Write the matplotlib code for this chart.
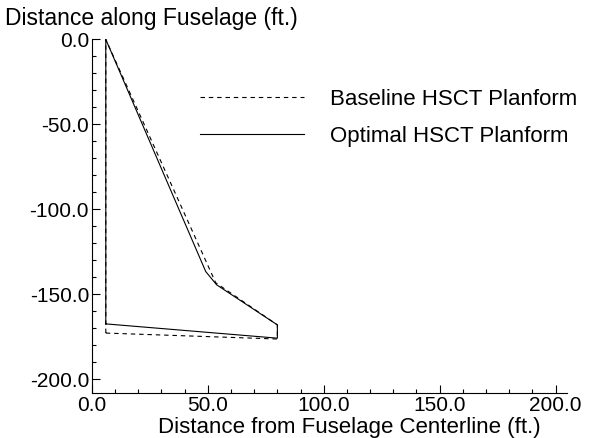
import numpy as np
import matplotlib.pyplot as plt

plt.rcParams['font.family'] = ['Liberation Sans', 'DejaVu Sans']

# planform outlines (ft.), root -> leading edge -> tip -> trailing edge -> root
base_x = [6.0, 6.0, 53.4, 80.0, 80.0, 6.0]
base_y = [-172.8, 0.0, -143.2, -168.0, -176.3, -172.8]

opt_x = [6.0, 6.0, 49.1, 53.8, 80.0, 80.0, 6.0]
opt_y = [-167.4, 0.0, -136.6, -144.4, -168.0, -175.8, -167.4]

xticks = [0, 50, 100, 150, 200]
yticks = [0, -50, -100, -150, -200]

fig = plt.figure(figsize=(5.89, 4.38), dpi=100)
ax = fig.add_axes([0.156, 0.103, 0.807, 0.807])

ax.plot(base_x, base_y, color='black', lw=0.8, ls=(0, (4, 3.5)),
        label='Baseline HSCT Planform')
ax.plot(opt_x, opt_y, color='black', lw=0.8, label='Optimal HSCT Planform')

ax.set_xlim(0, 205)
ax.set_ylim(-208, 0)
ax.set_xticks(xticks)
ax.set_xticklabels(['%.1f' % v for v in xticks])
ax.set_yticks(yticks)
ax.set_yticklabels(['%.1f' % v for v in yticks])
ax.set_xticks(np.arange(0, 205, 10), minor=True)
ax.set_yticks(np.arange(-200, 1, 10), minor=True)
ax.tick_params(which='major', direction='in', length=6, width=0.8, labelsize=15, pad=2)
ax.tick_params(which='minor', direction='in', length=3, width=0.8)

for s in ['top', 'right']:
    ax.spines[s].set_visible(False)
for s in ['left', 'bottom']:
    ax.spines[s].set_linewidth(0.8)

fig.text(349 / 589, 1 - 433 / 438, 'Distance from Fuselage Centerline (ft.)',
         fontsize=16, ha='center', va='baseline')
fig.text(5 / 589, 1 - 25 / 438, 'Distance along Fuselage (ft.)',
         fontsize=16.5, ha='left', va='baseline')

ax.legend(loc='upper left', bbox_to_anchor=(0.227, 0.86), frameon=False,
          borderpad=0, borderaxespad=0,
          fontsize=16, handlelength=4.7, handletextpad=1.17, labelspacing=0.72)

plt.savefig('out.png')
